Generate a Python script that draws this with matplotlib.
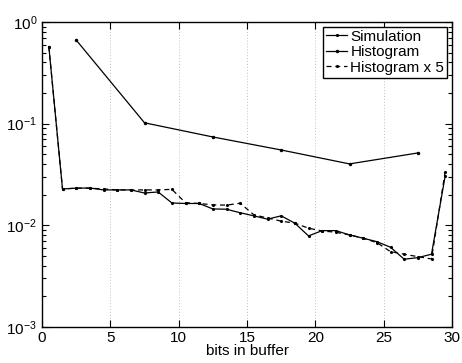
import matplotlib
matplotlib.use("Agg")
import matplotlib.pyplot as plt
from matplotlib.ticker import LogLocator, NullFormatter

plt.rcParams['font.family'] = ['Liberation Sans', 'DejaVu Sans']
plt.rcParams['mathtext.fontset'] = 'custom'
plt.rcParams['mathtext.rm'] = 'Liberation Sans'
plt.rcParams['mathtext.it'] = 'Liberation Sans'

# buffer occupancy (bit centres)
bits_fine = [0.5, 1.5, 2.5, 3.5, 4.5, 5.5, 6.5, 7.5, 8.5, 9.5,
             10.5, 11.5, 12.5, 13.5, 14.5, 15.5, 16.5, 17.5, 18.5, 19.5,
             20.5, 21.5, 22.5, 23.5, 24.5, 25.5, 26.5, 27.5, 28.5, 29.5]
bits_coarse = [2.5, 7.5, 12.5, 17.5, 22.5, 27.5]

simulation = [0.574, 0.0228, 0.0232, 0.0233, 0.0223, 0.0223, 0.0223, 0.0208, 0.0213, 0.0166,
              0.0164, 0.0164, 0.0145, 0.0144, 0.0133, 0.0124, 0.0115, 0.0124, 0.0105, 0.00787,
              0.00887, 0.00887, 0.00805, 0.00747, 0.00691, 0.00609, 0.00464, 0.00481, 0.00520, 0.0306]
histogram = [0.665, 0.102, 0.074, 0.0551, 0.0402, 0.0515]
histogram_x5 = [0.574, 0.0228, 0.0232, 0.0232, 0.0228, 0.0223, 0.0223, 0.0223, 0.0223, 0.0226,
                0.0167, 0.0164, 0.0159, 0.0158, 0.0165, 0.0127, 0.0118, 0.0110, 0.0105, 0.00937,
                0.00881, 0.00855, 0.00805, 0.00747, 0.00676, 0.00551, 0.00520, 0.00492, 0.00467, 0.0337]

fig = plt.figure(figsize=(4.62, 3.63), dpi=100)
ax = fig.add_axes([42/462, 1 - 327/363, 410/462, 305/363])

ax.semilogy(bits_fine, simulation, '-', color='k', lw=0.9, marker='.', ms=2.5, label='Simulation')
ax.semilogy(bits_coarse, histogram, '-', color='k', lw=0.9, marker='.', ms=3, label='Histogram')
ax.semilogy(bits_fine, histogram_x5, '--', color='k', lw=0.9, marker='.', ms=2.5,
            dashes=(4, 3), label='Histogram x 5')

ax.set_xlim(0, 30)
ax.set_ylim(1e-3, 1)
ax.set_xticks([0, 5, 10, 15, 20, 25, 30])
ax.yaxis.set_major_locator(LogLocator(base=10, numticks=10))
ax.yaxis.set_minor_locator(LogLocator(base=10, subs=range(2, 10), numticks=10))
ax.yaxis.set_minor_formatter(NullFormatter())

ax.xaxis.grid(True, linestyle=(0, (1, 2)), color='#c0c0c0', lw=0.7)
ax.tick_params(which='both', direction='in', top=True, right=True, labelsize=11, width=0.8)
ax.tick_params(which='major', length=5)
ax.tick_params(which='minor', length=3)
ax.tick_params(axis='x', pad=3)
for s in ax.spines.values():
    s.set_linewidth(1.0)

ax.set_xlabel('bits in buffer', fontsize=11, labelpad=-1)

leg = ax.legend(loc='upper right', fontsize=11, frameon=True, fancybox=False,
                edgecolor='k', framealpha=1, handlelength=1.4, handletextpad=0.2,
                borderpad=0.2, labelspacing=0.1, borderaxespad=0.3)
leg.get_frame().set_linewidth(1.0)

fig.savefig('out.png', dpi=100)
